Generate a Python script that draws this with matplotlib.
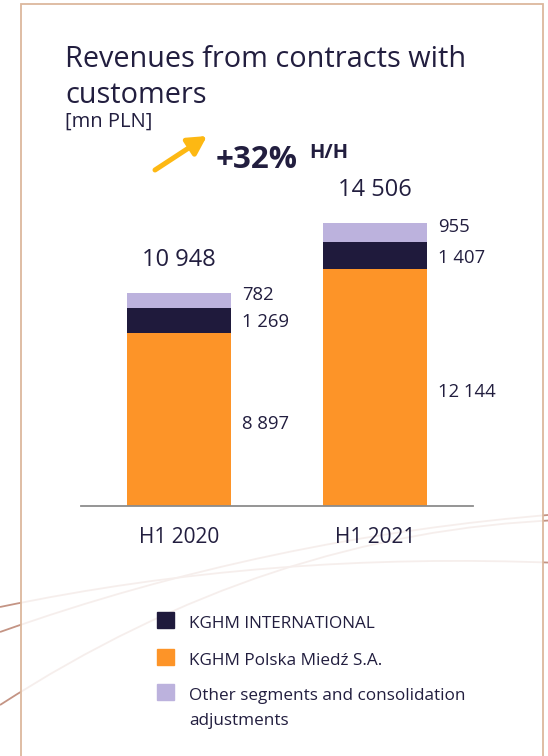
import matplotlib.pyplot as plt
import numpy as np
from matplotlib.patches import Rectangle, FancyArrowPatch, PathPatch
from matplotlib.path import Path

plt.rcParams['font.family'] = ['Open Sans', 'DejaVu Sans']

# dane [mn PLN]
periods = ['H1 2020', 'H1 2021']
kghm_pm = [8897, 12144]
kghm_intl = [1269, 1407]
other = [782, 955]

series = ['KGHM Polska Miedź S.A.', 'KGHM INTERNATIONAL',
          'Other segments and consolidation\nadjustments']
colors = ['#fd9428', '#1f1a3c', '#bcb2dd']
legend_order = [1, 0, 2]

text_col = '#221e3f'
W, H = 548, 756


def fx(x):
    return x / W


def fy(y):
    return 1 - y / H


def fmt(v):
    return f'{v:,}'.replace(',', ' ')


fig = plt.figure(figsize=(W / 100, H / 100), dpi=100)
fig.patch.set_facecolor('white')

# ozdobne linie w tle
for p0, mid, p2 in [((0, 607), (274, 568), (560, 563)),
                    ((0, 632), (274, 555), (560, 514)),
                    ((0, 705), (274, 572), (560, 520))]:
    p0, mid, p2 = np.array(p0), np.array(mid), np.array(p2)
    p1 = 2 * mid - (p0 + p2) / 2
    verts = [(fx(p[0]), fy(p[1])) for p in (p0, p1, p2)]
    path = Path(verts, [Path.MOVETO, Path.CURVE3, Path.CURVE3])
    fig.add_artist(PathPatch(path, transform=fig.transFigure, fill=False,
                             edgecolor='#c49484', lw=1.3, zorder=-3))

# karta
card = Rectangle((fx(21), fy(770)), fx(543) - fx(21), fy(4) - fy(770),
                 transform=fig.transFigure, facecolor=(1, 1, 1, 0.85),
                 edgecolor='#dcb89d', lw=1.3, zorder=-2)
fig.add_artist(card)

# wykres słupkowy
scale = 0.01948  # px na mn PLN
ymax = 18000
ax = fig.add_axes([fx(81), fy(506), fx(473) - fx(81), ymax * scale / H])
ax.patch.set_visible(False)

x = np.arange(len(periods))
width = 0.53
bottom = np.zeros(len(periods))
for vals, col in zip([kghm_pm, kghm_intl, other], colors):
    ax.bar(x, vals, width, bottom=bottom, color=col, zorder=2)
    bottom += np.array(vals)

ax.set_xlim(-0.5, 1.5)
ax.set_ylim(0, ymax)
for s in ['top', 'right', 'left']:
    ax.spines[s].set_visible(False)
ax.spines['bottom'].set_color('#8c8c8c')
ax.spines['bottom'].set_linewidth(1.3)
ax.set_yticks([])
ax.set_xticks(x, periods)
ax.tick_params(axis='x', length=0, pad=15, labelsize=15, labelcolor=text_col)

# etykiety segmentów (przesunięcie w pionie, pt)
dys = [-3, -1.5, 4]
for i in range(len(periods)):
    base = 0
    for vals, dy in zip([kghm_pm, kghm_intl, other], dys):
        v = vals[i]
        ax.annotate(fmt(v), xy=(x[i] + width / 2, base + v / 2),
                    xytext=(8, dy), textcoords='offset points',
                    ha='left', va='center', fontsize=13.3, color=text_col)
        base += v
    ax.annotate(fmt(int(bottom[i])), xy=(x[i], bottom[i]),
                xytext=(0, 19.5), textcoords='offset points',
                ha='center', va='baseline', fontsize=17, color=text_col)

# tytuł
fig.text(fx(65), fy(67), 'Revenues from contracts with', fontsize=20.8,
         color=text_col, va='baseline')
fig.text(fx(65), fy(103), 'customers', fontsize=20.8, color=text_col,
         va='baseline')
fig.text(fx(65), fy(127), '[mn PLN]', fontsize=14.5, color=text_col,
         va='baseline')

# zmiana H/H
growth = round((bottom[1] / bottom[0] - 1) * 100)
fig.text(fx(216), fy(168), f'+{growth}%', fontsize=22.5, weight='bold',
         color=text_col, va='baseline')
fig.text(fx(309), fy(158), 'H/H', fontsize=14.5, weight='bold',
         color=text_col, va='baseline')
fig.add_artist(FancyArrowPatch((fx(155), fy(170)), (fx(207), fy(136)),
                               transform=fig.transFigure,
                               arrowstyle='-|>,head_length=0.55,head_width=0.3',
                               mutation_scale=20, lw=3.6, color='#fdb813',
                               shrinkA=0, shrinkB=0))

# legenda
for row, idx in enumerate(legend_order):
    yb = [628, 665, 700][row]
    fig.add_artist(Rectangle((fx(157), fy(yb)), fx(17), 16 / H,
                             transform=fig.transFigure, color=colors[idx]))
    for k, line in enumerate(series[idx].split('\n')):
        fig.text(fx(189), fy(yb + 25 * k), line, fontsize=12.3,
                 color=text_col, va='baseline')

fig.savefig('out.png', dpi=100)
